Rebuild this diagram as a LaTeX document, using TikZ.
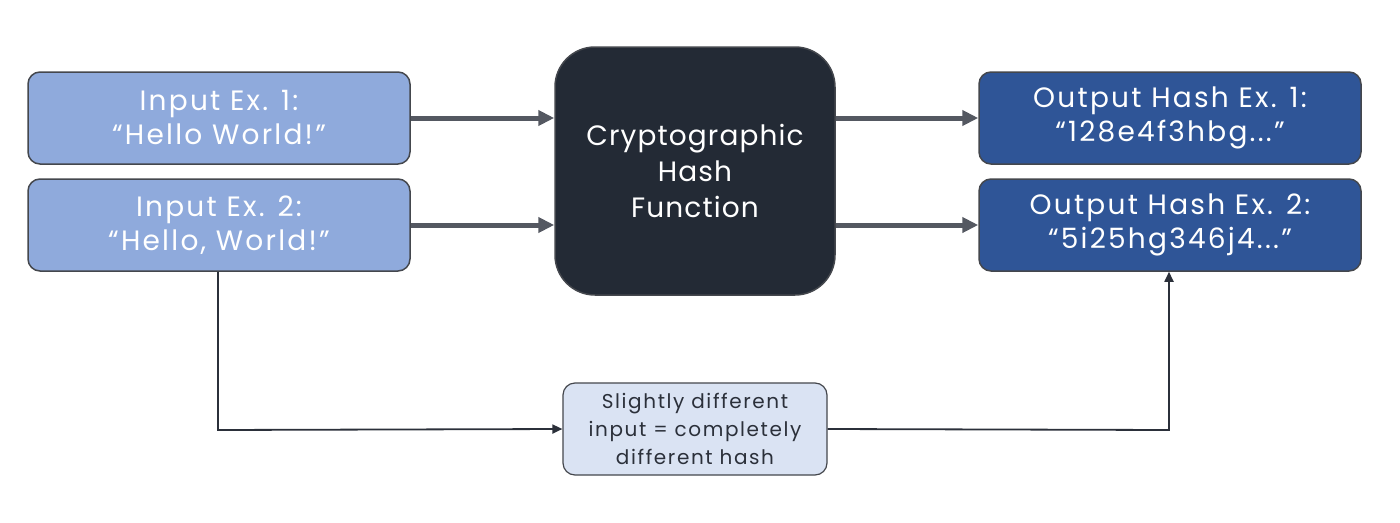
\documentclass[tikz,border=0pt]{standalone}
\usepackage{fontspec}
\setmainfont{Poppins}
\newfontfamily\boxfont[LetterSpace=8]{Poppins}
\newfontfamily\hashfont[LetterSpace=4]{Poppins}
\usetikzlibrary{arrows.meta}
\definecolor{inblue}{HTML}{8FAADC}
\definecolor{outblue}{HTML}{2F5597}
\definecolor{hashdark}{HTML}{232A35}
\definecolor{notefill}{HTML}{DAE3F3}
\definecolor{edge}{HTML}{44474D}
\definecolor{arrowgray}{HTML}{545861}
\definecolor{thinline}{HTML}{2B303A}
\tikzset{
  x=1pt,y=-1pt,
  box/.style={draw=edge,line width=1.5pt,rounded corners=12pt,minimum width=382pt,minimum height=92pt,align=center,text=white,font=\boxfont\fontsize{28}{34}\selectfont,inner sep=0pt},
  inbox/.style={box,fill=inblue},
  outbox/.style={box,fill=outblue},
  hashbox/.style={draw=edge,line width=1.5pt,rounded corners=40pt,fill=hashdark,minimum width=280pt,minimum height=248pt,align=center,text=white,font=\hashfont\fontsize{28}{36}\selectfont,inner sep=0pt},
  notebox/.style={draw=edge,line width=1.2pt,rounded corners=12pt,fill=notefill,minimum width=264pt,minimum height=92pt,align=center,text=thinline,font=\boxfont\fontsize{20}{28}\selectfont,inner sep=0pt},
  thick arrow/.style={draw=arrowgray,line width=5pt,-{Triangle[length=16pt,width=15pt]}},
  thin arrow/.style={draw=thinline,line width=1.8pt,-{Triangle[length=10pt,width=9pt]}},
}
\begin{document}
\begin{tikzpicture}
\useasboundingbox (0,0) rectangle (1400,522);
\node[inbox] (in1) at (219,118) {Input Ex. 1:\\“Hello World!”};
\node[inbox] (in2) at (219,225) {Input Ex. 2:\\“Hello, World!”};
\node[hashbox] (hash) at (695,171) {Cryptographic\\Hash\\Function};
\node[outbox] (out1) at (1170,118) {Output Hash Ex. 1:\\“128e4f3hbg...”};
\node[outbox] (out2) at (1170,225) {Output Hash Ex. 2:\\“5i25hg346j4...”};
\node[notebox] (note) at (695,429) {Slightly different\\input = completely\\different hash};
\draw[thick arrow] (in1.east) -- (in1.east -| hash.west);
\draw[thick arrow] (in2.east) -- (in2.east -| hash.west);
\draw[thick arrow] (out1.west -| hash.east) -- (out1.west);
\draw[thick arrow] (out2.west -| hash.east) -- (out2.west);
\coordinate (c1) at (218,430);
\coordinate (c2) at (1169,430);
\draw[thin arrow] (in2.south -| c1) -- (c1) -- (note.west);
\draw[thin arrow] (note.east) -- (c2) -- (out2.south -| c2);
\end{tikzpicture}
\end{document}
